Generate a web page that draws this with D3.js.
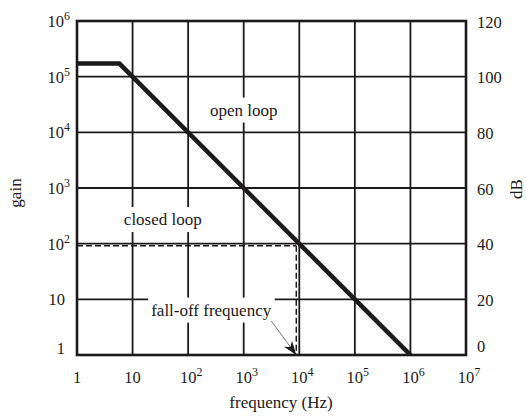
<!DOCTYPE html>
<html>
<head>
<meta charset="utf-8">
<script src="https://cdn.jsdelivr.net/npm/d3@7"></script>
<style>
  html, body { margin: 0; padding: 0; background: #fff; }
  svg { display: block; font-family: "Liberation Serif", "Times New Roman", serif; }
</style>
</head>
<body>
<svg id="chart" width="526" height="418"></svg>
<script>
// Frequency axis ticks (Hz) and their labels: base + optional exponent
const freqTicks = [1, 1e1, 1e2, 1e3, 1e4, 1e5, 1e6, 1e7];
const freqTickBase = ["1", "10", "10", "10", "10", "10", "10", "10"];
const freqTickExp = ["", "", "2", "3", "4", "5", "6", "7"];

// Gain axis ticks and labels
const gainTicks = [1, 1e1, 1e2, 1e3, 1e4, 1e5, 1e6];
const gainTickBase = ["1", "10", "10", "10", "10", "10", "10"];
const gainTickExp = ["", "", "2", "3", "4", "5", "6"];

// Decibel ticks on the right
const dbTicks = [0, 20, 40, 60, 80, 100, 120];

// Open-loop response: flat DC gain then a -20 dB/decade roll-off
const openLoopFreq = [1, 5.8, 1e6];
const openLoopGain = [1.72e5, 1.72e5, 1];

// Closed-loop operating point
const closedLoopGain = 100;
const fallOffFreq = 1e4;

const W = 526, H = 418;
const plot = { left: 77, right: 466, top: 21, bottom: 355 };
const ink = "#1c1a1a";

const svg = d3.select("#chart");

const x = d3.scaleLog().domain([1, 1e7]).range([plot.left, plot.right]);
const y = d3.scaleLog().domain([1, 1e6]).range([plot.bottom, plot.top]);
const yDb = d3.scaleLinear().domain([0, 120]).range([plot.bottom, plot.top]);

// Grid
const grid = svg.append("g").attr("stroke", ink).attr("stroke-width", 1.8);
grid.selectAll("line.v").data(freqTicks.slice(1, -1)).join("line")
  .attr("x1", d => x(d)).attr("x2", d => x(d))
  .attr("y1", plot.top).attr("y2", plot.bottom);
grid.selectAll("line.h").data(gainTicks.slice(1, -1)).join("line")
  .attr("y1", d => y(d)).attr("y2", d => y(d))
  .attr("x1", plot.left).attr("x2", plot.right);

// Annotation labels with white backing
const labels = [
  { text: "open loop", f: 1e3, g: 2.0e4 },
  { text: "closed loop", f: 35, g: 216 },
  { text: "fall-off frequency", f: 260, g: 5.1 }
];
const lab = svg.append("g");
labels.forEach(l => {
  const gEl = lab.append("g");
  const t = gEl.append("text")
    .attr("x", x(l.f)).attr("y", y(l.g))
    .attr("text-anchor", "middle")
    .attr("font-size", 17).attr("fill", ink)
    .text(l.text);
  const bb = t.node().getBBox();
  gEl.insert("rect", "text")
    .attr("x", bb.x - 3).attr("y", bb.y - 3)
    .attr("width", bb.width + 6).attr("height", bb.height + 6)
    .attr("fill", "#fff");
});

// Closed-loop dashed guides (nudged off the grid lines so they stay visible)
const dash = svg.append("g")
  .attr("stroke", ink).attr("stroke-width", 1.5)
  .attr("stroke-dasharray", "6,3").attr("fill", "none");
dash.append("line")
  .attr("x1", plot.left).attr("x2", x(fallOffFreq) - 3)
  .attr("y1", y(closedLoopGain) + 2).attr("y2", y(closedLoopGain) + 2);
dash.append("line")
  .attr("x1", x(fallOffFreq) - 3).attr("x2", x(fallOffFreq) - 3)
  .attr("y1", y(closedLoopGain) + 2).attr("y2", y(1));

// Open-loop curve
svg.append("clipPath").attr("id", "plotClip").append("rect")
  .attr("x", plot.left).attr("y", plot.top)
  .attr("width", plot.right - plot.left).attr("height", plot.bottom - plot.top);
const line = d3.line().x(d => x(d[0])).y(d => y(d[1]));
const pts = openLoopFreq.map((f, i) => [f, openLoopGain[i]]);
svg.append("path")
  .attr("d", line(pts))
  .attr("clip-path", "url(#plotClip)")
  .attr("fill", "none").attr("stroke", ink)
  .attr("stroke-width", 4.5).attr("stroke-linejoin", "miter")
  .attr("stroke-linecap", "square");

// Arrow from the fall-off label down to the frequency axis
const tip = [x(fallOffFreq) - 3, y(1)];
const tail = [tip[0] - 25, tip[1] - 34];
const ang = Math.atan2(tip[1] - tail[1], tip[0] - tail[0]) * 180 / Math.PI;
svg.append("line")
  .attr("x1", tail[0]).attr("y1", tail[1])
  .attr("x2", tip[0] - 8 * Math.cos(ang * Math.PI / 180))
  .attr("y2", tip[1] - 8 * Math.sin(ang * Math.PI / 180))
  .attr("stroke", "#555").attr("stroke-width", 0.8);
svg.append("path")
  .attr("d", "M0,0 L-14,-5 L-10,0 L-14,5 Z")
  .attr("transform", `translate(${tip[0]},${tip[1]}) rotate(${ang})`)
  .attr("fill", ink);

// Frame
svg.append("rect")
  .attr("x", plot.left).attr("y", plot.top)
  .attr("width", plot.right - plot.left).attr("height", plot.bottom - plot.top)
  .attr("fill", "none").attr("stroke", ink).attr("stroke-width", 2.6);

// Tick label helper: base text plus optional superscript
function addLabel(g, base, exp) {
  const t = g.append("text").attr("font-size", 16.5).attr("fill", ink);
  const main = t.append("tspan").text(base);
  if (exp) t.append("tspan").attr("font-size", 12).attr("dy", -7).text(exp);
  return { t, main };
}

// Bottom axis labels: the "10" sits centred on the tick
const bottom = svg.append("g");
freqTicks.forEach((f, i) => {
  const { t, main } = addLabel(bottom, freqTickBase[i], freqTickExp[i]);
  const w = main.node().getComputedTextLength();
  t.attr("x", x(f) - w / 2).attr("y", 383);
});

// Left axis labels
const left = svg.append("g");
gainTicks.forEach((g, i) => {
  const { t } = addLabel(left, gainTickBase[i], gainTickExp[i]);
  t.attr("text-anchor", "end")
    .attr("x", gainTickExp[i] ? 70 : 65)
    .attr("y", y(g) + (i === 0 ? -1 : 6));
});

// Right axis labels (dB)
svg.append("g").selectAll("text").data(dbTicks).join("text")
  .attr("x", 477)
  .attr("y", d => yDb(d) + (d === 0 ? -3 : 6.5))
  .attr("font-size", 16.5).attr("fill", ink)
  .text(d => d);

// Axis titles
svg.append("text")
  .attr("x", 281).attr("y", 408)
  .attr("text-anchor", "middle").attr("font-size", 17).attr("fill", ink)
  .text("frequency (Hz)");
svg.append("text")
  .attr("transform", "translate(21,193) rotate(-90)")
  .attr("text-anchor", "middle").attr("font-size", 17).attr("fill", ink)
  .text("gain");
svg.append("text")
  .attr("transform", "translate(522,189) rotate(-90)")
  .attr("text-anchor", "middle").attr("font-size", 17).attr("fill", ink)
  .text("dB");
</script>
</body>
</html>
